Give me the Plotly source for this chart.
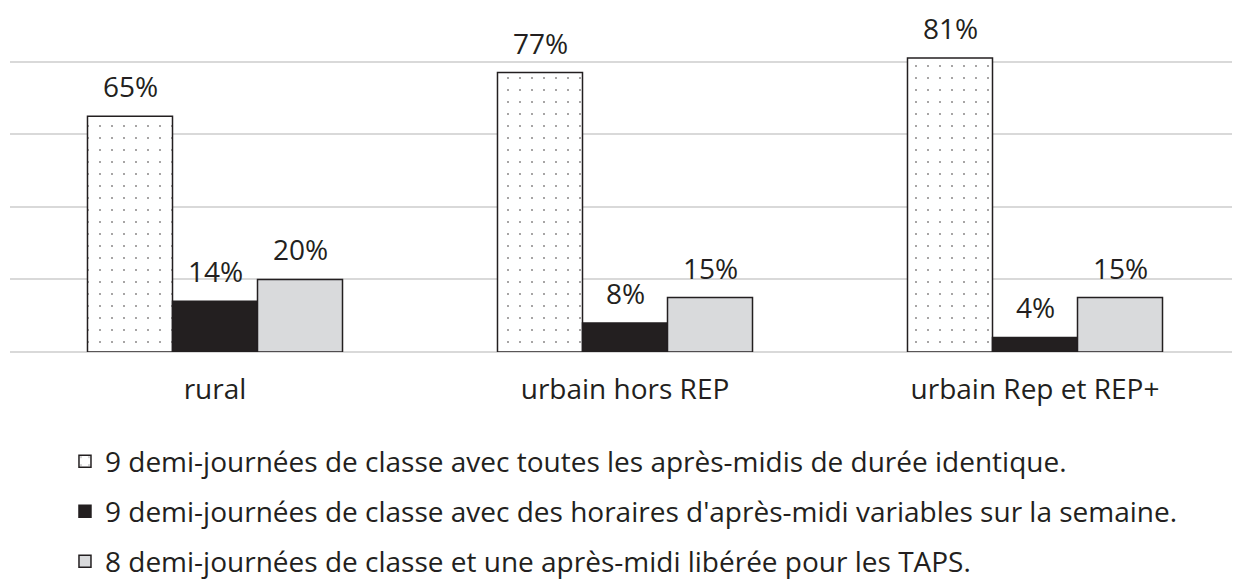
import plotly.graph_objects as go

categories = ["rural", "urbain hors REP", "urbain Rep et REP+"]
series_names = [
    "9 demi-journées de classe avec toutes les après-midis de durée identique.",
    "9 demi-journées de classe avec des horaires d'après-midi variables sur la semaine.",
    "8 demi-journées de classe et une après-midi libérée pour les TAPS.",
]
s1 = [65, 77, 81]
s2 = [14, 8, 4]
s3 = [20, 15, 15]
series_values = [s1, s2, s3]

FONT = "Open Sans"
INK = "#231f20"
FS = 28

fig = go.Figure()
fills = [
    dict(color="white", pattern=dict(shape=".", fgcolor=INK, bgcolor="white", size=12, solidity=0.025)),
    dict(color=INK),
    dict(color="#d9dadc"),
]
legend_ids = ["legend", "legend2", "legend3"]
for i, (name, vals) in enumerate(zip(series_names, series_values)):
    m = dict(fills[i])
    m["line"] = dict(color=INK, width=1.5)
    fig.add_trace(go.Bar(
        x=categories, y=vals, name=name, marker=m,
        legend=legend_ids[i],
    ))

offsets = [-85, 0, 85]
for i, vals in enumerate(series_values):
    for c, v in zip(categories, vals):
        fig.add_annotation(x=c, y=v, text=f"{v}%", showarrow=False,
                           xshift=offsets[i], yshift=30, yanchor="middle",
                           font=dict(family=FONT, size=FS, color=INK))

leg_common = dict(x=0.0447, xanchor="left", yanchor="middle",
                  font=dict(family=FONT, size=FS, color=INK),
                  itemwidth=30, bgcolor="rgba(0,0,0,0)")
fig.update_layout(
    width=1240, height=583,
    margin=dict(l=2, r=8, t=4, b=239),
    paper_bgcolor="white", plot_bgcolor="white",
    barmode="group", bargap=0.378, bargroupgap=0,
    font=dict(family=FONT, size=FS, color=INK),
    showlegend=True,
    legend=dict(y=-0.322, **leg_common),
    legend2=dict(y=-0.469, **leg_common),
    legend3=dict(y=-0.616, **leg_common),
)
fig.update_yaxes(range=[0, 93.7], dtick=20, showgrid=True, gridcolor="#d9d9d9", gridwidth=2,
                 showticklabels=False, zeroline=True, zerolinecolor="#d9d9d9", zerolinewidth=2,
                 showline=False)
fig.update_xaxes(showline=False, ticks="outside", ticklen=12, tickcolor="rgba(0,0,0,0)",
                 tickfont=dict(family=FONT, size=FS, color=INK))

fig.write_html("out.html")
